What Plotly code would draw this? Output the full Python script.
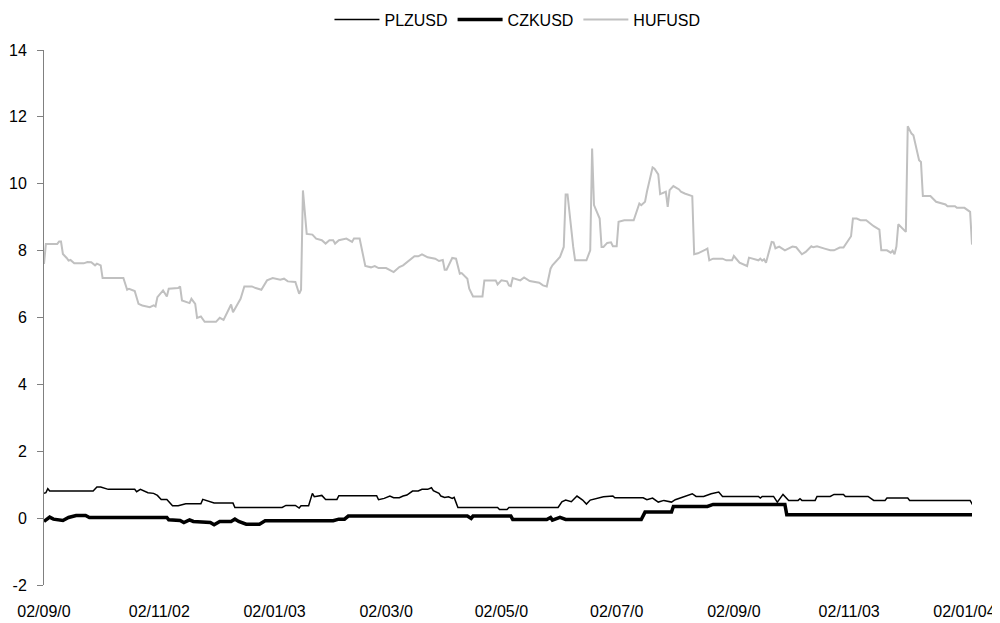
import pandas as pd
import plotly.graph_objects as go

START = "2002-09-02"

# Day offsets (from 2002-09-02) and values
huf_day = [0, 1, 7, 8, 9, 10, 12, 13, 14, 16, 21, 23, 25, 27, 28, 30, 31, 42, 44, 45, 48, 50, 52, 56, 58, 59,
           60, 63, 65, 66, 71, 72, 73, 77, 78, 80, 81, 83, 85, 91, 93, 95, 99, 100, 104, 106, 110, 112, 115,
           118, 121, 125, 127, 129, 133, 135, 136, 137, 139, 142, 144, 147, 149, 151, 153, 154, 156, 160, 163,
           164, 167, 170, 173, 175, 177, 181, 185, 188, 190, 196, 198, 200, 203, 207, 209, 211, 212, 213, 216,
           218, 220, 221, 224, 225, 227, 232, 233, 239, 240, 242, 245, 246, 247, 248, 252, 254, 257, 262, 264,
           266, 268, 269, 273, 275, 276, 277, 280, 281, 287, 289, 290, 291, 294, 295, 296, 298, 300, 301, 303,
           304, 307, 312, 315, 316, 318, 319, 322, 323, 325, 326, 329, 330, 331, 333, 336, 337, 339, 343, 344,
           346, 350, 351, 352, 354, 359, 361, 364, 365, 368, 372, 373, 375, 378, 379, 380, 381, 382, 385, 386,
           387, 389, 392, 396, 398, 401, 403, 406, 407, 409, 413, 416, 418, 421, 423, 425, 427, 428, 430, 432,
           435, 439, 442, 443, 446, 448, 449, 450, 451, 452, 456, 457, 459, 460, 463, 464, 465, 469, 472, 477,
           478, 482, 483, 487, 490, 491]
huf_val = [7.6, 8.2, 8.2, 8.27, 8.27, 7.9, 7.78, 7.7, 7.72, 7.62, 7.62, 7.66, 7.65, 7.56, 7.61, 7.56, 7.18, 7.18,
           6.83, 6.86, 6.79, 6.41, 6.36, 6.31, 6.36, 6.33, 6.61, 6.81, 6.63, 6.86, 6.88, 6.93, 6.51, 6.43, 6.56,
           6.41, 5.99, 6.03, 5.87, 5.87, 5.99, 5.93, 6.39, 6.16, 6.56, 6.93, 6.93, 6.88, 6.83, 7.11, 7.18, 7.13,
           7.16, 7.08, 7.06, 6.71, 6.83, 9.8, 8.5, 8.48, 8.36, 8.31, 8.21, 8.31, 8.31, 8.21, 8.31, 8.36, 8.26,
           8.36, 8.36, 7.54, 7.5, 7.54, 7.48, 7.48, 7.36, 7.51, 7.56, 7.83, 7.83, 7.89, 7.8, 7.76, 7.69, 7.72,
           7.43, 7.43, 7.78, 7.76, 7.31, 7.33, 7.16, 6.86, 6.63, 6.63, 7.11, 7.11, 6.99, 7.11, 7.08, 6.96, 6.94,
           7.18, 7.11, 7.2, 7.09, 7.04, 6.96, 6.93, 7.46, 7.56, 7.81, 8.11, 9.68, 9.68, 8.11, 7.71, 7.71, 8.01,
           11.05, 9.36, 8.96, 8.11, 8.11, 8.23, 8.25, 8.13, 8.13, 8.86, 8.91, 8.91, 9.41, 9.36, 9.46, 9.76, 10.49,
           10.45, 10.28, 9.69, 9.76, 9.31, 9.81, 9.93, 9.83, 9.76, 9.71, 9.63, 7.89, 7.92, 8.03, 8.06, 7.71, 7.76,
           7.76, 7.71, 7.71, 7.84, 7.64, 7.54, 7.79, 7.75, 7.71, 7.76, 7.7, 7.74, 7.64, 8.26, 8.25, 8.07, 8.12,
           8.01, 8.12, 8.1, 7.89, 7.96, 8.13, 8.1, 8.13, 8.06, 8.01, 8.01, 8.09, 8.09, 8.26, 8.43, 8.96, 8.96,
           8.91, 8.91, 8.73, 8.63, 8.01, 8.01, 7.94, 8.0, 7.89, 8.12, 8.79, 8.56, 11.72, 11.5, 11.45, 10.7, 10.65,
           9.63, 9.63, 9.46, 9.38, 9.33, 9.33, 9.28, 9.28, 9.16, 8.18]

plz_day = [0, 1, 2, 3, 26, 28, 30, 34, 48, 49, 51, 55, 58, 60, 62, 65, 68, 71, 75, 83, 84, 87, 90, 100, 101,
           126, 128, 133, 135, 136, 140, 142, 143, 147, 149, 155, 156, 176, 177, 180, 183, 185, 188, 190, 192,
           195, 198, 200, 203, 205, 206, 209, 210, 212, 214, 216, 217, 219, 240, 241, 245, 246, 272, 274, 276,
           279, 282, 285, 287, 289, 293, 296, 301, 302, 317, 319, 322, 325, 328, 332, 334, 338, 340, 343, 345,
           349, 353, 355, 357, 359, 378, 379, 380, 386, 388, 391, 394, 399, 400, 401, 408, 409, 416, 418, 423,
           424, 436, 439, 445, 446, 457, 458, 490, 492]
plz_val = [0.74, 0.76, 0.88, 0.81, 0.81, 0.93, 0.93, 0.86, 0.86, 0.79, 0.86, 0.76, 0.74, 0.68, 0.56, 0.56, 0.37,
           0.37, 0.43, 0.43, 0.56, 0.51, 0.45, 0.45, 0.32, 0.32, 0.38, 0.38, 0.3, 0.37, 0.37, 0.74, 0.64, 0.68,
           0.56, 0.56, 0.67, 0.67, 0.55, 0.59, 0.66, 0.61, 0.61, 0.66, 0.69, 0.81, 0.81, 0.86, 0.86, 0.91, 0.82,
           0.74, 0.66, 0.62, 0.64, 0.59, 0.62, 0.32, 0.32, 0.26, 0.26, 0.32, 0.32, 0.49, 0.54, 0.49, 0.66, 0.54,
           0.42, 0.54, 0.59, 0.64, 0.66, 0.61, 0.61, 0.55, 0.6, 0.48, 0.53, 0.48, 0.55, 0.63, 0.68, 0.73, 0.65,
           0.65, 0.73, 0.75, 0.78, 0.65, 0.65, 0.6, 0.65, 0.65, 0.48, 0.71, 0.53, 0.53, 0.58, 0.53, 0.53, 0.65,
           0.65, 0.71, 0.71, 0.65, 0.65, 0.53, 0.53, 0.6, 0.6, 0.53, 0.53, 0.33]

czk_day = [0, 3, 5, 10, 13, 17, 22, 24, 65, 66, 72, 74, 77, 79, 88, 90, 93, 99, 101, 103, 107, 114, 117, 153,
           156, 159, 161, 224, 226, 227, 247, 248, 266, 268, 269, 273, 276, 316, 318, 332, 333, 351, 354, 392,
           393, 492]
czk_val = [-0.1, 0.03, -0.03, -0.07, 0.02, 0.08, 0.08, 0.02, 0.02, -0.05, -0.07, -0.13, -0.05, -0.1, -0.13, -0.2,
           -0.1, -0.1, -0.03, -0.1, -0.18, -0.18, -0.08, -0.08, -0.03, -0.03, 0.06, 0.06, -0.01, 0.06, 0.06,
           -0.04, -0.04, 0.02, -0.06, 0.02, -0.04, -0.04, 0.18, 0.18, 0.35, 0.35, 0.41, 0.41, 0.1, 0.1]

tick_dates = ["2002-09-02", "2002-11-02", "2003-01-02", "2003-03-02", "2003-05-02",
              "2003-07-02", "2003-09-02", "2003-11-02", "2004-01-02"]
tick_labels = ["02/09/0", "02/11/02", "02/01/03", "02/03/0", "02/05/0",
               "02/07/0", "02/09/0", "02/11/03", "02/01/04"]
y_ticks = [-2, 0, 2, 4, 6, 8, 10, 12, 14]
y_labels = ["-2", "0", "2", "4", "6", "8", "10", "12", "14"]


def to_dates(days):
    return pd.Timestamp(START) + pd.to_timedelta(days, unit="D")


FONT = "Liberation Sans, Arial, sans-serif"

fig = go.Figure()
fig.add_trace(go.Scatter(x=to_dates(plz_day), y=plz_val, mode="lines", name="PLZUSD",
                         line=dict(color="#000000", width=1.5)))
fig.add_trace(go.Scatter(x=to_dates(czk_day), y=czk_val, mode="lines", name="CZKUSD",
                         line=dict(color="#000000", width=3.5)))
fig.add_trace(go.Scatter(x=to_dates(huf_day), y=huf_val, mode="lines", name="HUFUSD",
                         line=dict(color="#c0c0c0", width=2)))

x_range = ["2002-09-02", "2004-01-06"]

# The page body has an 8px margin, so the figure is sized to end at the window edge.
fig.update_layout(
    width=992, height=615,
    margin=dict(l=36, r=28, t=42, b=38, autoexpand=False),
    paper_bgcolor="white", plot_bgcolor="white",
    font=dict(family=FONT, size=16, color="#000000"),
    showlegend=True,
    legend=dict(orientation="h", x=0.5102, xanchor="center", y=0.9813, yanchor="middle",
                yref="container", font=dict(size=16), itemwidth=45, tracegroupgap=0,
                bgcolor="rgba(0,0,0,0)"),
    xaxis=dict(type="date", range=x_range, showgrid=False, zeroline=False, showline=False,
               automargin=False, tickmode="array", tickvals=tick_dates, ticktext=tick_labels,
               ticks="outside", ticklen=12, tickcolor="rgba(0,0,0,0)",
               tickfont=dict(size=16, family=FONT)),
    xaxis2=dict(type="date", overlaying="x", matches="x", anchor="free", position=0.125,
                range=x_range, showgrid=False, zeroline=False, showline=True, automargin=False,
                linecolor="#808080", linewidth=1, tickmode="array", tickvals=tick_dates,
                showticklabels=False, ticks="outside", ticklen=5, tickcolor="#808080"),
    yaxis=dict(range=[-2, 14], tickmode="array", tickvals=y_ticks, ticktext=y_labels,
               showgrid=False, zeroline=False, automargin=False,
               showline=True, linecolor="#808080", linewidth=1,
               ticks="outside", ticklen=6, tickcolor="#808080",
               ticklabelstandoff=7, tickfont=dict(size=16, family=FONT)),
)

fig.write_html("out.html")
